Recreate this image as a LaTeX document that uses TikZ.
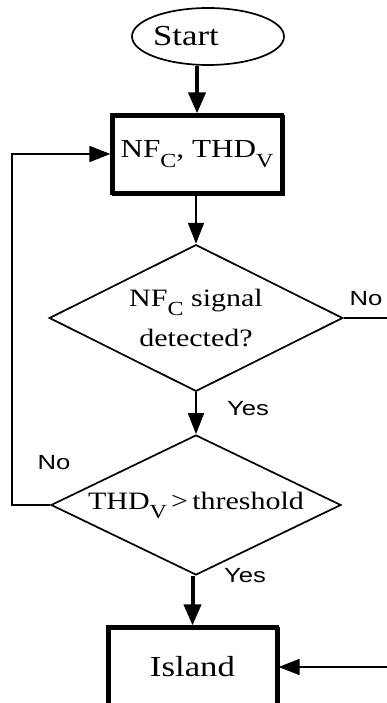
\documentclass[tikz,border=0pt]{standalone}
\usepackage{fontspec}
\setmainfont{Liberation Serif}[FakeStretch=1.2]
\setsansfont{Liberation Sans}[FakeStretch=1.25]
\usetikzlibrary{shapes.geometric,arrows.meta}
% lowered, smaller index letter (NF_C, THD_V)
\newcommand{\lowsub}[1]{\raisebox{-0.36em}{\fontsize{20}{20}\selectfont #1}}

\begin{document}
\begin{tikzpicture}[x=1pt,y=-1pt,
  thinline/.style={line width=1.7pt},
  flow/.style={thinline,-{Triangle[length=21pt,width=16pt]}},
  thickflow/.style={line width=4pt,-{Triangle[length=21pt,width=17pt]}},
  boxnode/.style={rectangle, draw, line width=3.2pt, inner sep=0pt,
    minimum width=170pt, minimum height=78pt,
    preaction={draw, line width=3.2pt, transform canvas={shift={(1.6pt,-1.6pt)}}}},
  decision/.style={diamond, draw, thinline, inner sep=0pt, aspect=2,
    minimum width=288pt, minimum height=140pt,
    align=center, font=\fontsize{25}{40}\selectfont},
  terminal/.style={ellipse, draw, thinline, inner sep=0pt,
    minimum width=152pt, minimum height=57pt},
  answer/.style={font=\sffamily\fontsize{20.5}{24}\selectfont, inner sep=0pt}
]
\useasboundingbox (0,0) rectangle (387,703);
\clip (0,0) rectangle (387,703);

% nodes
\node[terminal, label={[xshift=-22pt, font=\fontsize{29}{34}\selectfont]center:Start}] (start) at (208,36.5) {};
\node[boxnode, font=\fontsize{26}{30}\selectfont] (meas) at (197,154) {NF\lowsub{C}, THD\lowsub{V}};
\node[decision] (det) at (196,318) {\raisebox{-3pt}{\begin{tabular}{@{}c@{}}NF\lowsub{C} signal\\detected?\end{tabular}}};
\node[decision, minimum width=290pt] (thd) at (196,505) {THD\lowsub{V}\,>\,threshold};
\node[boxnode, minimum width=169pt, minimum height=80pt, font=\fontsize{29}{34}\selectfont] (island) at (192.5,667) {Island};

% answer labels
\node[answer] (noA) at (366,299) {No};
\node[answer] (yesA) at (248,409) {Yes};
\node[answer] (noB) at (54,463) {No};
\node[answer] (yesB) at (245,576) {Yes};

% helper corners for the feedback and bypass lines
\coordinate (loopL) at (12,505);
\coordinate (loopT) at (12,154);
\coordinate (byTop) at (389,318);
\coordinate (byBot) at (389,667);

% connectors
\draw[thickflow] (start.south -| meas.north) -- (meas.north);
\draw[flow] (meas.south -| det.north) -- (det.north);
\draw[flow] (det.south) -- (thd.north);
\draw[thickflow] (thd.south -| island.north) -- (island.north);
\draw[flow] (thd.west) -- (loopL) -- (loopT) -- (meas.west);
\draw[flow] (det.east) -- (byTop) -- (byBot) -- (island.east);
\end{tikzpicture}
\end{document}
